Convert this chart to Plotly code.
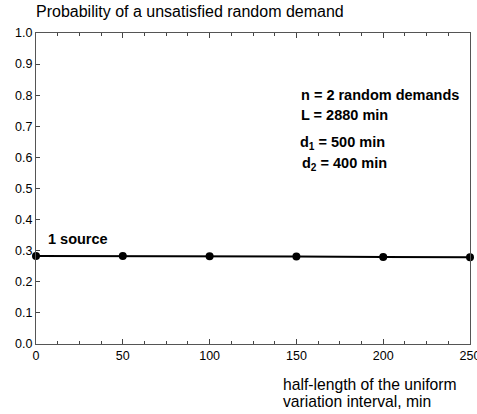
import plotly.graph_objects as go

x_vals = [0, 50, 100, 150, 200, 250]
p_vals = [0.283, 0.283, 0.282, 0.281, 0.280, 0.279]
x_ticks = [0, 50, 100, 150, 200, 250]
y_ticks = [0.0, 0.1, 0.2, 0.3, 0.4, 0.5, 0.6, 0.7, 0.8, 0.9, 1.0]

fig = go.Figure()
fig.add_trace(go.Scatter(
    x=x_vals, y=p_vals, mode="lines+markers",
    line=dict(color="black", width=2),
    marker=dict(color="black", size=8),
    cliponaxis=False, showlegend=False,
))

font = "Arial, Liberation Sans, sans-serif"
ann_font = dict(size=14.5)
sub = "<sub>{}</sub>"
fig.update_layout(
    width=477, height=414,
    margin=dict(l=36, r=7, t=33, b=70, autoexpand=False),
    plot_bgcolor="white", paper_bgcolor="white",
    font=dict(family=font, size=12, color="black"),
    xaxis=dict(
        range=[0, 250], tickvals=x_ticks, ticks="inside", ticklen=5,
        tickcolor="#444", showline=True, linecolor="#555", linewidth=1,
        mirror="ticks", showgrid=False, zeroline=False, automargin=False,
        ticklabeloverflow="allow",
        minor=dict(ticks="inside", dtick=12.5, ticklen=3, tickcolor="#444"),
        tickfont=dict(size=12.5),
    ),
    yaxis=dict(
        range=[0, 1], tickvals=y_ticks, tickformat=".1f", ticks="inside",
        ticklen=4, tickcolor="#444", showline=True, linecolor="#555",
        linewidth=1, mirror=True, showgrid=False, zeroline=False, automargin=False,
        ticklabeloverflow="allow",
        tickfont=dict(size=12.5),
    ),
    annotations=[
        dict(text="Probability of a unsatisfied random demand", xref="paper", yref="paper",
             x=0, y=1, xshift=-2, yshift=11, xanchor="left", yanchor="bottom",
             showarrow=False, font=dict(size=16)),
        dict(text="half-length of the uniform", xref="paper", yref="paper",
             x=0.569, y=0, xshift=-2, yshift=-40, xanchor="left", yanchor="middle",
             showarrow=False, font=dict(size=15.7)),
        dict(text="variation interval, min", xref="paper", yref="paper",
             x=0.569, y=0, xshift=-2, yshift=-57, xanchor="left", yanchor="middle",
             showarrow=False, font=dict(size=15.7)),
        dict(text="<b>1 source</b>", x=0, y=0.283, xshift=10, yshift=17,
             xanchor="left", yanchor="middle", showarrow=False, font=ann_font),
        dict(text="<b>n = 2 random demands</b>", xref="paper", yref="paper", x=0.606, y=0.801,
             xanchor="left", yanchor="middle", showarrow=False, font=ann_font),
        dict(text="<b>L = 2880 min</b>", xref="paper", yref="paper", x=0.606, y=0.736,
             xanchor="left", yanchor="middle", showarrow=False, font=ann_font),
        dict(text="<b>d" + sub.format("1") + " = 500 min</b>", xref="paper", yref="paper",
             x=0.604, y=0.645, xanchor="left", yanchor="middle", showarrow=False, font=ann_font),
        dict(text="<b>d" + sub.format("2") + " = 400 min</b>", xref="paper", yref="paper",
             x=0.608, y=0.580, xanchor="left", yanchor="middle", showarrow=False, font=ann_font),
    ],
)

fig.write_html("out.html", config={"displayModeBar": False},
               post_script="document.body.style.margin='0';")
